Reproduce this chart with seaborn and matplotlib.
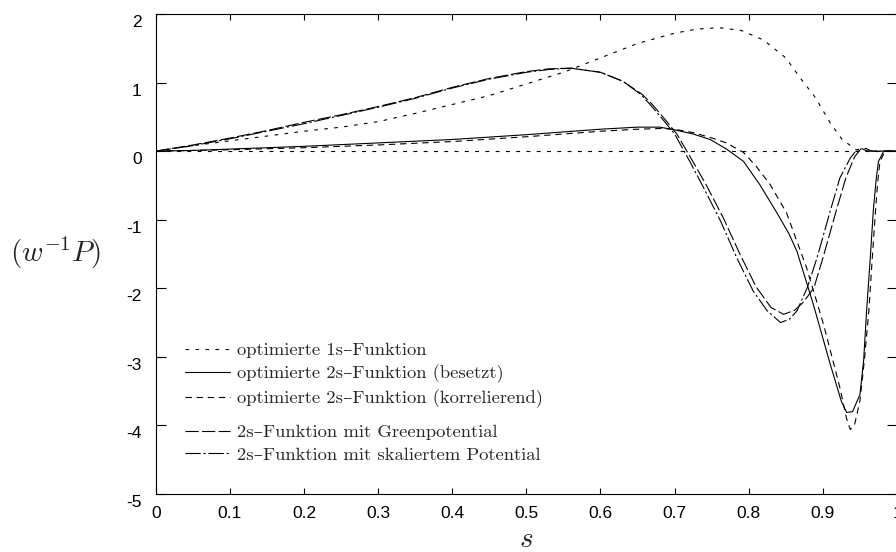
import numpy as np
import pandas as pd
import matplotlib
matplotlib.use("Agg")
import matplotlib.pyplot as plt
from matplotlib.transforms import ScaledTranslation
from matplotlib.lines import Line2D
import seaborn as sns

# ---- data ----
s_1s = [0, 0.05, 0.1, 0.15, 0.2, 0.25, 0.3, 0.35, 0.4, 0.45, 0.5, 0.55, 0.6, 0.65,
        0.7, 0.73, 0.76, 0.79, 0.82, 0.85, 0.87, 0.89, 0.91, 0.926, 0.945, 0.96, 1.0]
v_1s = [0, 0.08, 0.15, 0.22, 0.29, 0.35, 0.43, 0.55, 0.68, 0.81, 0.98, 1.15, 1.36, 1.57,
        1.72, 1.78, 1.80, 1.76, 1.62, 1.36, 1.06, 0.78, 0.41, 0.17, 0.02, 0, 0]

s_bes = [0, 0.05, 0.1, 0.2, 0.3, 0.4, 0.5, 0.55, 0.6, 0.65, 0.68, 0.70, 0.725, 0.748, 0.77,
         0.793, 0.815, 0.838, 0.854, 0.865, 0.887, 0.910, 0.925, 0.932, 0.94, 0.95, 0.955,
         0.959, 0.964, 0.968, 0.972, 0.975, 0.982, 1.0]
v_bes = [0, 0.01, 0.03, 0.07, 0.12, 0.17, 0.24, 0.28, 0.32, 0.35, 0.35, 0.31, 0.25, 0.17, 0.03,
         -0.15, -0.49, -0.90, -1.20, -1.46, -2.23, -3.11, -3.65, -3.81, -3.80, -3.55, -3.05,
         -2.33, -1.55, -0.87, -0.40, -0.15, 0, 0]

s_kor = [0, 0.05, 0.1, 0.2, 0.3, 0.4, 0.5, 0.55, 0.6, 0.65, 0.68, 0.70, 0.725, 0.748, 0.77,
         0.793, 0.81, 0.829, 0.851, 0.878, 0.901, 0.923, 0.932, 0.937, 0.943, 0.950, 0.956,
         0.962, 0.967, 0.971, 0.974, 0.977, 0.984, 1.0]
v_kor = [0, 0.01, 0.02, 0.05, 0.09, 0.14, 0.21, 0.25, 0.29, 0.32, 0.33, 0.32, 0.27, 0.20, 0.12,
         -0.02, -0.22, -0.49, -0.90, -1.70, -2.53, -3.45, -3.90, -4.06, -3.98, -3.64, -3.05,
         -2.33, -1.50, -0.87, -0.45, -0.15, 0, 0]

s_grn = [0, 0.05, 0.1, 0.15, 0.2, 0.25, 0.3, 0.35, 0.4, 0.45, 0.5, 0.53, 0.56, 0.6, 0.63,
         0.656, 0.67, 0.688, 0.703, 0.723, 0.743, 0.766, 0.788, 0.81, 0.83, 0.847, 0.862,
         0.874, 0.888, 0.90, 0.918, 0.931, 0.943, 0.951, 0.958, 0.966, 1.0]
v_grn = [0, 0.09, 0.19, 0.30, 0.42, 0.53, 0.65, 0.78, 0.93, 1.06, 1.16, 1.20, 1.21, 1.15, 1.02,
         0.83, 0.68, 0.45, 0.25, -0.12, -0.50, -0.98, -1.50, -1.98, -2.28, -2.38, -2.32,
         -2.20, -1.99, -1.56, -0.87, -0.39, -0.08, 0.03, 0.04, 0, 0]

s_ska = [0, 0.05, 0.1, 0.15, 0.2, 0.25, 0.3, 0.35, 0.4, 0.45, 0.5, 0.53, 0.56, 0.6, 0.63,
         0.654, 0.667, 0.685, 0.70, 0.72, 0.739, 0.762, 0.784, 0.806, 0.825, 0.843, 0.855,
         0.865, 0.879, 0.892, 0.910, 0.923, 0.937, 0.946, 0.952, 0.96, 1.0]
v_ska = [0, 0.08, 0.18, 0.29, 0.40, 0.52, 0.64, 0.77, 0.92, 1.05, 1.15, 1.19, 1.21, 1.15, 1.02,
         0.83, 0.68, 0.45, 0.25, -0.14, -0.53, -1.02, -1.56, -2.04, -2.33, -2.50, -2.45,
         -2.33, -1.99, -1.56, -0.87, -0.39, -0.10, 0.02, 0.04, 0, 0]

labels = ["optimierte 1s\u2013Funktion",
          "optimierte 2s\u2013Funktion (besetzt)",
          "optimierte 2s\u2013Funktion (korrelierend)",
          "2s\u2013Funktion mit Greenpotential",
          "2s\u2013Funktion mit skaliertem Potential"]
x_ticks = [0, 0.1, 0.2, 0.3, 0.4, 0.5, 0.6, 0.7, 0.8, 0.9, 1]
x_ticklabels = ["0", "0.1", "0.2", "0.3", "0.4", "0.5", "0.6", "0.7", "0.8", "0.9", "1"]
y_ticks = [2, 1, 0, -1, -2, -3, -4, -5]
y_ticklabels = ["2", "1", "0", "-1", "-2", "-3", "-4", "-5"]

# ---- style ----
sns.set_theme(style="ticks")
plt.rcParams["font.family"] = ["Liberation Sans", "DejaVu Sans"]
plt.rcParams["mathtext.fontset"] = "cm"
plt.rcParams["axes.unicode_minus"] = False
plt.rcParams["lines.scale_dashes"] = False

fig = plt.figure(figsize=(8.96, 5.52), dpi=100)
ax = fig.add_axes([155.7 / 896, 58 / 552, 741.3 / 896, 480 / 552])

styles = [(0, (2.6, 4.6)), "-", (0, (4.6, 3.4)), (0, (9.5, 2.4)), (0, (11, 2.0, 1.6, 2.0))]
series = [(s_1s, v_1s), (s_bes, v_bes), (s_kor, v_kor), (s_grn, v_grn), (s_ska, v_ska)]

ax.axhline(0, color="black", lw=0.8, linestyle=(0, (2.8, 4.6)))
for (sx, sy), ls, lab in zip(series, styles, labels):
    df = pd.DataFrame({"s": sx, "v": sy})
    sns.lineplot(data=df, x="s", y="v", ax=ax, color="black", linewidth=0.8,
                 linestyle=ls, label=lab, legend=False)

ax.set_xlim(0, 1)
ax.set_ylim(-5, 2)
ax.set_xticks(x_ticks)
ax.set_xticklabels(x_ticklabels)
ax.set_yticks(y_ticks)
ax.set_yticklabels(y_ticklabels)
ax.tick_params(axis="x", direction="in", length=4.5, width=0.8, top=True, bottom=True,
               labelsize=12.5, pad=9, colors="black")
ax.tick_params(axis="y", direction="in", length=7.5, width=0.8, left=True, right=True,
               labelsize=12.5, pad=10, colors="black")
for sp in ax.spines.values():
    sp.set_linewidth(0.8)
    sp.set_color("black")
    sp.set_visible(True)

off = ScaledTranslation(0, -7 / 100, fig.dpi_scale_trans)
for lab in ax.get_yticklabels():
    lab.set_transform(lab.get_transform() + off)

ax.set_xlabel("$s$", fontsize=21)
ax.xaxis.set_label_coords(0.5, -0.065)
ax.set_ylabel("$(w^{-1}P)$", fontsize=21, rotation=0, ha="center", va="center")
ax.yaxis.set_label_coords(-0.135, 0.502)

# ---- legends ----
handles = [Line2D([], [], color="black", lw=0.8, linestyle=ls) for ls in styles]
lfont = {"family": ["cmr10", "DejaVu Serif"], "size": 13.4}
common = dict(loc="upper left", bbox_transform=fig.transFigure, frameon=False, prop=lfont,
              handlelength=2.4, handletextpad=0.4, labelspacing=0.35, borderpad=0,
              borderaxespad=0)
leg1 = ax.legend(handles[:3], labels[:3], bbox_to_anchor=(185 / 896, (552 - 342) / 552),
                 **common)
ax.add_artist(leg1)
leg2 = ax.legend(handles[3:], labels[3:], bbox_to_anchor=(185 / 896, (552 - 424) / 552),
                 **common)

fig.savefig("out.png", dpi=100)
